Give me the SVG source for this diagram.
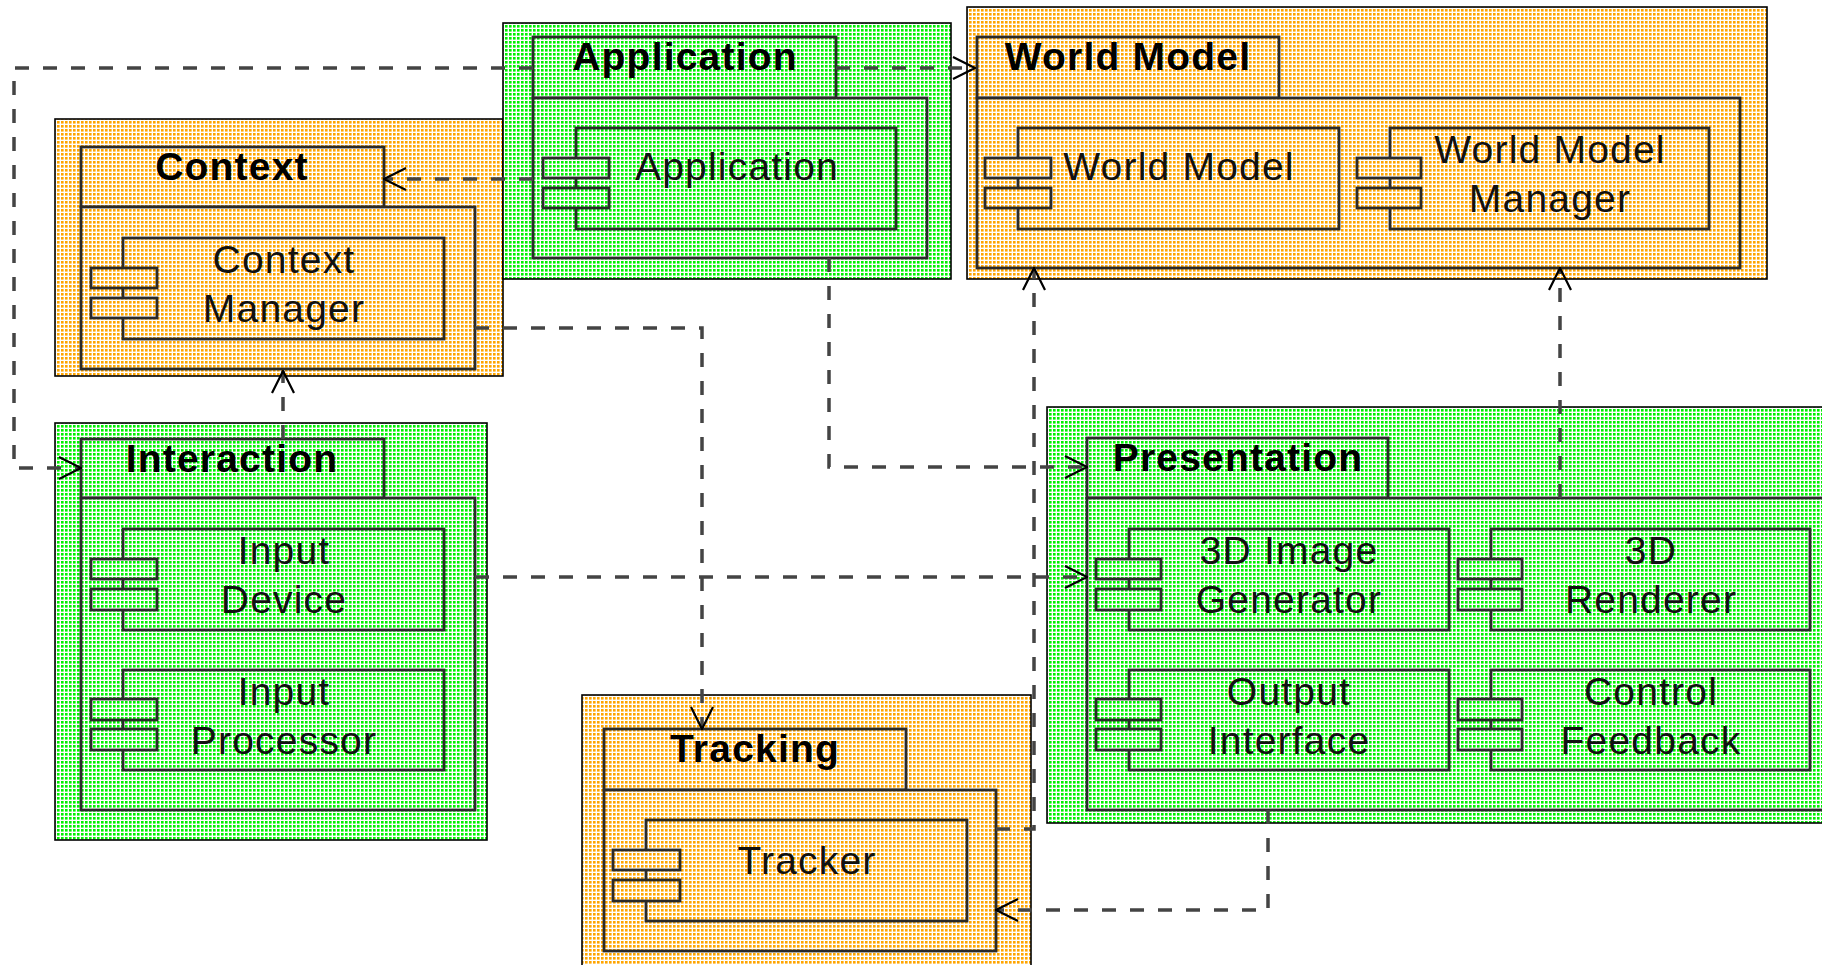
<svg xmlns="http://www.w3.org/2000/svg" width="1822" height="965" viewBox="0 0 1822 965">
<defs>
<pattern id="po" width="4" height="4" patternUnits="userSpaceOnUse"><rect width="4" height="4" fill="#ffffff"/><rect x="1" y="1" width="2.6" height="2.6" fill="#ffa500"/></pattern>
<pattern id="pg" width="4" height="4" patternUnits="userSpaceOnUse"><rect width="4" height="4" fill="#ffffff"/><rect x="1" y="1" width="2.6" height="2.6" fill="#00f000"/></pattern>
<marker id="arr" viewBox="0 0 24 24" refX="23" refY="12" markerWidth="24" markerHeight="24" markerUnits="userSpaceOnUse" orient="auto">
<path d="M1,1 L23,12 L1,23" fill="none" stroke="#000" stroke-width="2.2"/>
</marker>
</defs>
<style>
.outer{stroke:#000;stroke-width:1.6}
.in{stroke:#2a2a2a;stroke-width:2.8}
.o{fill:url(#po)}
.g{fill:url(#pg)}
.tab{font-family:"Liberation Sans",Arial,Helvetica,sans-serif;font-size:39px;font-weight:bold;fill:#000;text-anchor:middle;letter-spacing:1.2px}
.lbl{font-family:"Liberation Sans",Arial,Helvetica,sans-serif;font-size:39px;fill:#111;text-anchor:middle;letter-spacing:1.2px}
.con{fill:none;stroke:#444;stroke-width:3.5;stroke-dasharray:14 14}
</style>
<rect width="1822" height="965" fill="#ffffff"/>

<g id="context">
<rect class="outer o" x="55" y="119" width="448" height="257"/>
<rect class="in o" x="81" y="147" width="303" height="60"/>
<rect class="in o" x="81" y="207" width="394" height="162"/>
<rect class="in o" x="123" y="238" width="321" height="101"/>
<rect class="in o" x="91" y="268" width="66" height="20"/>
<rect class="in o" x="91" y="298" width="66" height="20"/>
<text class="tab" x="232" y="180">Context</text>
<text class="lbl" x="284" y="273">Context</text>
<text class="lbl" x="284" y="322">Manager</text>
</g>

<g id="application">
<rect class="outer g" x="503" y="23" width="448" height="256"/>
<rect class="in g" x="533" y="37" width="303" height="61"/>
<rect class="in g" x="533" y="98" width="394" height="160"/>
<rect class="in g" x="576" y="128" width="320" height="101"/>
<rect class="in g" x="543" y="158" width="66" height="20"/>
<rect class="in g" x="543" y="188" width="66" height="20"/>
<text class="tab" x="685" y="70">Application</text>
<text class="lbl" x="737" y="180">Application</text>
</g>

<g id="worldmodel">
<rect class="outer o" x="967" y="7" width="800" height="272"/>
<rect class="in o" x="977" y="37" width="302" height="61"/>
<rect class="in o" x="977" y="98" width="763" height="170"/>
<rect class="in o" x="1018" y="128" width="321" height="101"/>
<rect class="in o" x="985" y="158" width="66" height="20"/>
<rect class="in o" x="985" y="188" width="66" height="20"/>
<rect class="in o" x="1390" y="128" width="319" height="101"/>
<rect class="in o" x="1357" y="158" width="64" height="20"/>
<rect class="in o" x="1357" y="188" width="64" height="20"/>
<text class="tab" x="1128" y="70">World Model</text>
<text class="lbl" x="1179" y="180">World Model</text>
<text class="lbl" x="1550" y="163">World Model</text>
<text class="lbl" x="1550" y="212">Manager</text>
</g>

<g id="interaction">
<rect class="outer g" x="55" y="423" width="432" height="417"/>
<rect class="in g" x="81" y="439" width="303" height="59"/>
<rect class="in g" x="81" y="498" width="394" height="312"/>
<rect class="in g" x="123" y="529" width="321" height="101"/>
<rect class="in g" x="91" y="559" width="66" height="20"/>
<rect class="in g" x="91" y="589" width="66" height="21"/>
<rect class="in g" x="123" y="670" width="321" height="100"/>
<rect class="in g" x="91" y="699" width="66" height="21"/>
<rect class="in g" x="91" y="729" width="66" height="21"/>
<text class="tab" x="232" y="472">Interaction</text>
<text class="lbl" x="284" y="564">Input</text>
<text class="lbl" x="284" y="613">Device</text>
<text class="lbl" x="284" y="705">Input</text>
<text class="lbl" x="284" y="754">Processor</text>
</g>

<g id="presentation">
<rect class="outer g" x="1047" y="407" width="800" height="416"/>
<rect class="in g" x="1087" y="438" width="301" height="60"/>
<rect class="in g" x="1087" y="498" width="760" height="312"/>
<rect class="in g" x="1129" y="529" width="320" height="101"/>
<rect class="in g" x="1096" y="559" width="65" height="20"/>
<rect class="in g" x="1096" y="589" width="65" height="21"/>
<rect class="in g" x="1491" y="529" width="319" height="101"/>
<rect class="in g" x="1458" y="559" width="64" height="20"/>
<rect class="in g" x="1458" y="589" width="64" height="21"/>
<rect class="in g" x="1129" y="670" width="320" height="100"/>
<rect class="in g" x="1096" y="699" width="65" height="21"/>
<rect class="in g" x="1096" y="729" width="65" height="21"/>
<rect class="in g" x="1491" y="670" width="319" height="100"/>
<rect class="in g" x="1458" y="699" width="64" height="21"/>
<rect class="in g" x="1458" y="729" width="64" height="21"/>
<text class="tab" x="1238" y="471">Presentation</text>
<text class="lbl" x="1289" y="564">3D Image</text>
<text class="lbl" x="1289" y="613">Generator</text>
<text class="lbl" x="1651" y="564">3D</text>
<text class="lbl" x="1651" y="613">Renderer</text>
<text class="lbl" x="1289" y="705">Output</text>
<text class="lbl" x="1289" y="754">Interface</text>
<text class="lbl" x="1651" y="705">Control</text>
<text class="lbl" x="1651" y="754">Feedback</text>
</g>

<g id="tracking">
<rect class="outer o" x="582" y="695" width="449" height="290"/>
<rect class="in o" x="604" y="729" width="302" height="61"/>
<rect class="in o" x="604" y="790" width="392" height="161"/>
<rect class="in o" x="646" y="820" width="321" height="101"/>
<rect class="in o" x="613" y="850" width="67" height="20"/>
<rect class="in o" x="613" y="880" width="67" height="21"/>
<text class="tab" x="755" y="762">Tracking</text>
<text class="lbl" x="807" y="874">Tracker</text>
</g>

<g id="connectors">
<path class="con" d="M533,68 H14 V468 H81" marker-end="url(#arr)"/>
<path class="con" d="M533,179 H384" marker-end="url(#arr)"/>
<path class="con" d="M836,68 H975" marker-end="url(#arr)"/>
<path class="con" d="M829,258 V467 H1087" marker-end="url(#arr)"/>
<path class="con" d="M475,328 H702 V729" marker-end="url(#arr)"/>
<path class="con" d="M475,577 H1087" marker-end="url(#arr)"/>
<path class="con" d="M283,439 V371" marker-end="url(#arr)"/>
<path class="con" d="M1560,498 V268" marker-end="url(#arr)"/>
<path class="con" d="M996,829 H1034 V268" marker-end="url(#arr)"/>
<path class="con" d="M1268,810 V910 H996" marker-end="url(#arr)"/>
</g>
</svg>
